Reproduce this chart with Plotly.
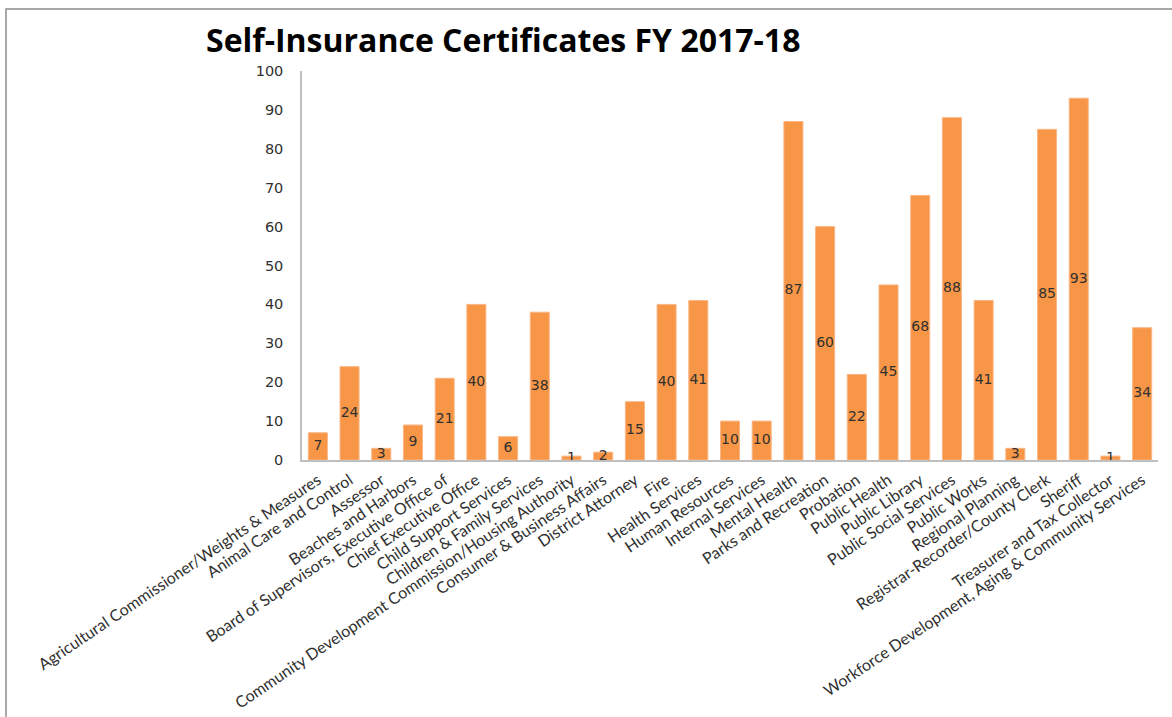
import plotly.graph_objects as go

departments = [
    "Agricultural Commissioner/Weights & Measures",
    "Animal Care and Control",
    "Assessor",
    "Beaches and Harbors",
    "Board of Supervisors, Executive Office of",
    "Chief Executive Office",
    "Child Support Services",
    "Children & Family Services",
    "Community Development Commission/Housing Authority",
    "Consumer & Business Affairs",
    "District Attorney",
    "Fire",
    "Health Services",
    "Human Resources",
    "Internal Services",
    "Mental Health",
    "Parks and Recreation",
    "Probation",
    "Public Health",
    "Public Library",
    "Public Social Services",
    "Public Works",
    "Regional Planning",
    "Registrar-Recorder/County Clerk",
    "Sheriff",
    "Treasurer and Tax Collector",
    "Workforce Development, Aging & Community Services",
]
certificates = [7, 24, 3, 9, 21, 40, 6, 38, 1, 2, 15, 40, 41, 10, 10,
                87, 60, 22, 45, 68, 88, 41, 3, 85, 93, 1, 34]
y_ticks = [0, 10, 20, 30, 40, 50, 60, 70, 80, 90, 100]

W, H = 1172, 717
L, R, T, B = 302, 14, 71, 257
plot_w = W - L - R
plot_h = H - T - B

fig = go.Figure()
fig.add_trace(go.Bar(
    x=departments, y=certificates,
    marker=dict(color="#F79646", line=dict(color="#FAB584", width=1)),
    hoverinfo="x+y",
))
# value labels sit at the middle of each bar
fig.add_trace(go.Scatter(
    x=departments, y=[v / 2 for v in certificates],
    mode="text", text=[str(v) for v in certificates],
    textfont=dict(family="DejaVu Sans", size=14, color="#303030"),
    hoverinfo="skip", cliponaxis=False,
))

# frame around the chart area
def px_x(p):
    return (p - L) / plot_w

def px_y(p):
    return (H - B - p) / plot_h

fig.add_shape(type="path", xref="paper", yref="paper",
              path=f"M {px_x(6)},{px_y(H + 5)} L {px_x(6)},{px_y(9)} L {px_x(W + 5)},{px_y(9)}",
              line=dict(color="#8C8C8C", width=1.5))

fig.update_layout(
    width=W, height=H,
    margin=dict(l=L, r=R, t=T, b=B, autoexpand=False),
    plot_bgcolor="white", paper_bgcolor="white",
    showlegend=False,
    bargap=0.4,
    title=dict(text="<b>Self-Insurance Certificates FY 2017-18</b>",
               font=dict(family="Open Sans", size=32, color="#000000"),
               xref="container", x=206 / W, xanchor="left",
               yref="container", y=1 - 41 / H, yanchor="middle"),
    xaxis=dict(
        range=[-0.5, len(departments) - 0.5],
        tickangle=-34, tickfont=dict(family="Lato", size=16, color="#303030"),
        showline=True, linecolor="#BFBFBF", linewidth=1.5,
        showgrid=False, ticks="", ticklabelstandoff=3, automargin=False,
    ),
    yaxis=dict(
        range=[0, 100], tickvals=y_ticks, showgrid=False,
        tickfont=dict(family="DejaVu Sans", size=14.5, color="#303030"),
        showline=True, linecolor="#BFBFBF", linewidth=1.5,
        ticks="", ticklabelstandoff=14, zeroline=False, automargin=False,
    ),
)

fig.write_html("out.html")
